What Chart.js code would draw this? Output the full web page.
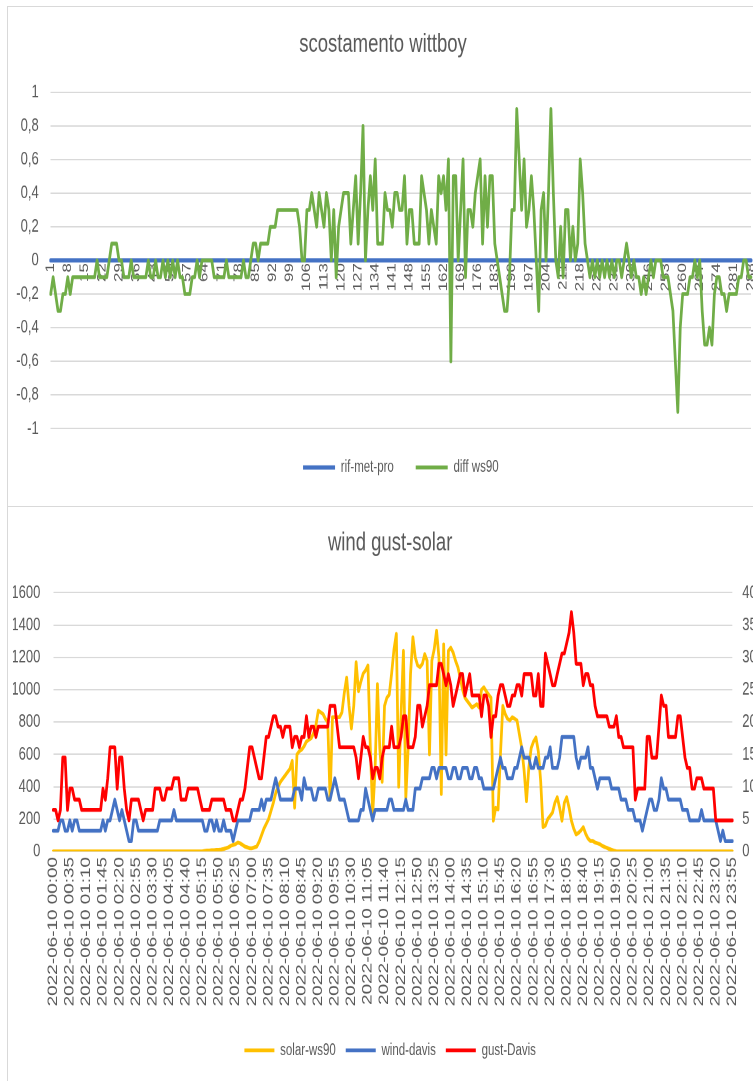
<!DOCTYPE html>
<html>
<head>
<meta charset="utf-8">
<script src="https://cdn.jsdelivr.net/npm/chart.js@4.4.1/dist/chart.umd.min.js"></script>
<style>
  html, body { margin: 0; padding: 0; background: #fff; }
  body { width: 753px; height: 1081px; overflow: hidden; position: relative; }
  .frame { position: absolute; left: 7px; width: 790px; border: 1px solid #d9d9d9; border-right: none; box-sizing: border-box; overflow: hidden; }
  #frame-top { top: 6px; height: 501px; }
  #frame-bottom { top: 506px; height: 600px; border-bottom: none; }
  .stretch { position: absolute; left: 0; top: 0; transform-origin: 0 0; transform: scaleY(1.4); }
  canvas { display: block; }
</style>
</head>
<body>
<div class="frame" id="frame-top"><div class="stretch"><canvas id="wittboy-chart" width="760" height="357"></canvas></div></div>
<div class="frame" id="frame-bottom"><div class="stretch"><canvas id="wind-solar-chart" width="775" height="420"></canvas></div></div>
<script>
// scostamento wittboy: sample number 1..288
const wittboyIndex = [];
for (let i = 1; i <= 288; i++) wittboyIndex.push(String(i));

const rifMetPro = [
    0, 0, 0, 0, 0, 0, 0, 0, 0, 0, 0, 0, 0, 0, 0, 0, 0, 0, 0, 0, 0, 0, 0, 0,
    0, 0, 0, 0, 0, 0, 0, 0, 0, 0, 0, 0, 0, 0, 0, 0, 0, 0, 0, 0, 0, 0, 0, 0,
    0, 0, 0, 0, 0, 0, 0, 0, 0, 0, 0, 0, 0, 0, 0, 0, 0, 0, 0, 0, 0, 0, 0, 0,
    0, 0, 0, 0, 0, 0, 0, 0, 0, 0, 0, 0, 0, 0, 0, 0, 0, 0, 0, 0, 0, 0, 0, 0,
    0, 0, 0, 0, 0, 0, 0, 0, 0, 0, 0, 0, 0, 0, 0, 0, 0, 0, 0, 0, 0, 0, 0, 0,
    0, 0, 0, 0, 0, 0, 0, 0, 0, 0, 0, 0, 0, 0, 0, 0, 0, 0, 0, 0, 0, 0, 0, 0,
    0, 0, 0, 0, 0, 0, 0, 0, 0, 0, 0, 0, 0, 0, 0, 0, 0, 0, 0, 0, 0, 0, 0, 0,
    0, 0, 0, 0, 0, 0, 0, 0, 0, 0, 0, 0, 0, 0, 0, 0, 0, 0, 0, 0, 0, 0, 0, 0,
    0, 0, 0, 0, 0, 0, 0, 0, 0, 0, 0, 0, 0, 0, 0, 0, 0, 0, 0, 0, 0, 0, 0, 0,
    0, 0, 0, 0, 0, 0, 0, 0, 0, 0, 0, 0, 0, 0, 0, 0, 0, 0, 0, 0, 0, 0, 0, 0,
    0, 0, 0, 0, 0, 0, 0, 0, 0, 0, 0, 0, 0, 0, 0, 0, 0, 0, 0, 0, 0, 0, 0, 0,
    0, 0, 0, 0, 0, 0, 0, 0, 0, 0, 0, 0, 0, 0, 0, 0, 0, 0, 0, 0, 0, 0, 0, 0,
];

const diffWs90 = [
    -0.2, -0.1, -0.2, -0.3, -0.3, -0.2, -0.2, -0.1, -0.2, -0.1,
    -0.1, -0.1, -0.1, -0.1, -0.1, -0.1, -0.1, -0.1, -0.1, 0,
    -0.1, -0.1, -0.1, -0.1, 0, 0.1, 0.1, 0.1, 0, 0,
    -0.1, -0.1, -0.1, 0, -0.1, -0.1, -0.1, -0.1, -0.1, -0.1,
    0, -0.1, -0.1, 0, -0.1, -0.1, 0, -0.1, 0, -0.1,
    0, -0.1, 0, -0.1, -0.1, -0.2, -0.2, -0.2, -0.1, -0.1,
    0, -0.1, 0, 0, 0, 0, 0, -0.1, -0.1, -0.1,
    -0.1, -0.1, 0, -0.1, -0.1, -0.1, -0.1, -0.1, -0.1, 0,
    -0.1, -0.1, 0, 0.1, 0.1, 0, 0.1, 0.1, 0.1, 0.1,
    0.2, 0.2, 0.2, 0.3, 0.3, 0.3, 0.3, 0.3, 0.3, 0.3,
    0.3, 0.3, 0.2, 0, 0, 0.3, 0.3, 0.4, 0.3, 0.2,
    0.4, 0.3, 0.2, 0.4, 0.3, 0, 0.3, -0.1, 0.2, 0.3,
    0.4, 0.4, 0.4, 0.1, 0.3, 0.5, 0.1, 0.4, 0.8, 0,
    0.3, 0.5, 0.3, 0.6, 0.1, 0.1, 0.1, 0.4, 0.3, 0.3,
    0.2, 0.4, 0.4, 0.3, 0.3, 0.5, 0.1, 0.3, 0.3, 0.1,
    0.1, 0.1, 0.5, 0.4, 0.3, 0.1, 0.3, 0.2, 0.1, 0.5,
    0.4, 0.5, 0.3, 0.6, -0.6, 0.5, 0.5, 0, 0.3, 0.6,
    -0.1, 0.3, 0.3, 0.2, 0.4, 0.5, 0.6, 0.1, 0.5, 0.2,
    0.5, 0.5, 0.1, 0, -0.1, -0.2, -0.3, -0.3, -0.1, 0.3,
    0.3, 0.9, 0.6, 0.3, 0.6, 0.2, 0.3, 0.5, 0.3, 0,
    -0.3, 0.3, 0.4, 0, 0.4, 0.9, 0.4, 0, -0.1, 0.2,
    -0.1, 0.3, 0.3, 0, 0.2, 0, 0.1, 0.6, 0.4, 0.1,
    0, -0.1, 0, -0.1, 0, -0.1, 0, -0.1, 0, -0.1,
    0, -0.1, 0, 0, -0.1, 0, 0.1, 0, -0.1, 0,
    -0.1, -0.1, -0.2, -0.1, -0.2, -0.1, 0, -0.1, 0, 0,
    0, -0.1, -0.1, -0.1, -0.2, -0.3, -0.6, -0.9, -0.4, -0.2,
    -0.2, -0.2, -0.1, -0.1, 0, -0.1, 0, -0.3, -0.5, -0.5,
    -0.4, -0.5, -0.2, -0.1, -0.1, -0.2, -0.2, -0.3, -0.2, -0.2,
    -0.2, -0.2, -0.1, -0.1, 0, 0, -0.1, -0.1,
];

// wind gust-solar: 5 minute samples of 2022-06-10
const timeLabels = [];
for (let m = 0; m < 24 * 60; m += 5) {
    const hh = String(Math.floor(m / 60)).padStart(2, '0');
    const mm = String(m % 60).padStart(2, '0');
    timeLabels.push(`2022-06-10 ${hh}:${mm}`);
}

const solarWs90 = [
    0, 0, 0, 0, 0, 0, 0, 0, 0, 0,
    0, 0, 0, 0, 0, 0, 0, 0, 0, 0,
    0, 0, 0, 0, 0, 0, 0, 0, 0, 0,
    0, 0, 0, 0, 0, 0, 0, 0, 0, 0,
    0, 0, 0, 0, 0, 0, 0, 0, 0, 0,
    0, 0, 0, 0, 0, 0, 0, 0, 0, 0,
    0, 0, 0, 0, 3, 5, 5, 8, 8, 10,
    10, 12, 15, 20, 25, 35, 40, 45, 55, 50,
    40, 30, 25, 20, 20, 25, 30, 60, 100, 140,
    170, 200, 250, 300, 360, 400, 430, 450, 470, 490,
    510, 560, 270, 600, 620, 630, 650, 680, 690, 700,
    730, 780, 870, 860, 850, 820, 800, 320, 830, 830,
    830, 830, 860, 980, 1075, 900, 760, 900, 1170, 990,
    1050, 1100, 1120, 1150, 640, 230, 500, 1035, 640, 430,
    900, 950, 970, 1100, 1250, 1345, 400, 850, 1240, 330,
    640, 1100, 1325, 1200, 1150, 1140, 1160, 1220, 1180, 600,
    1180, 1250, 1365, 1200, 355, 1280, 600, 1240, 1260, 1230,
    1180, 1140, 1075, 1000, 950, 930, 910, 890, 900, 910,
    890, 1000, 1015, 990, 970, 950, 190, 270, 260, 600,
    900, 850, 820, 810, 830, 820, 810, 725, 640, 500,
    310, 520, 640, 680, 705, 620, 435, 150, 160, 200,
    220, 240, 300, 335, 270, 190, 300, 335, 270, 190,
    140, 105, 115, 130, 150, 110, 80, 65, 65, 55,
    50, 45, 35, 28, 22, 15, 10, 5, 0, 0,
    0, 0, 0, 0, 0, 0, 0, 0, 0, 0,
    0, 0, 0, 0, 0, 0, 0, 0, 0, 0,
    0, 0, 0, 0, 0, 0, 0, 0, 0, 0,
    0, 0, 0, 0, 0, 0, 0, 0, 0, 0,
    0, 0, 0, 0, 0, 0, 0, 0,
];

const windDavis = [
    3.2, 3.2, 3.2, 4.8, 4.8, 3.2, 3.2, 4.8, 3.2, 4.8,
    4.8, 3.2, 3.2, 3.2, 3.2, 3.2, 3.2, 3.2, 3.2, 3.2,
    3.2, 4.8, 3.2, 4.8, 4.8, 6.4, 8.0, 6.4, 4.8, 6.4,
    4.8, 3.2, 1.6, 1.6, 4.8, 4.8, 3.2, 3.2, 3.2, 3.2,
    3.2, 3.2, 3.2, 3.2, 3.2, 4.8, 4.8, 4.8, 4.8, 4.8,
    4.8, 6.4, 4.8, 4.8, 4.8, 4.8, 4.8, 4.8, 4.8, 4.8,
    4.8, 4.8, 4.8, 4.8, 3.2, 3.2, 4.8, 4.8, 3.2, 4.8,
    3.2, 3.2, 4.8, 3.2, 3.2, 3.2, 1.6, 3.2, 4.8, 4.8,
    4.8, 4.8, 4.8, 4.8, 6.4, 6.4, 6.4, 6.4, 8.0, 6.4,
    8.0, 8.0, 8.0, 9.7, 11.3, 9.7, 8.0, 8.0, 8.0, 8.0,
    8.0, 8.0, 9.7, 9.7, 9.7, 8.0, 11.3, 9.7, 9.7, 9.7,
    8.0, 8.0, 9.7, 9.7, 9.7, 9.7, 8.0, 8.0, 9.7, 11.3,
    9.7, 8.0, 8.0, 8.0, 6.4, 4.8, 4.8, 4.8, 4.8, 4.8,
    6.4, 6.4, 9.7, 8.0, 6.4, 4.8, 6.4, 6.4, 6.4, 6.4,
    6.4, 6.4, 8.0, 8.0, 6.4, 6.4, 6.4, 6.4, 6.4, 8.0,
    6.4, 6.4, 6.4, 9.7, 9.7, 9.7, 11.3, 11.3, 11.3, 11.3,
    12.9, 12.9, 11.3, 12.9, 12.9, 12.9, 12.9, 11.3, 11.3, 12.9,
    12.9, 11.3, 11.3, 12.9, 12.9, 12.9, 11.3, 11.3, 12.9, 12.9,
    11.3, 11.3, 9.7, 9.7, 9.7, 9.7, 9.7, 11.3, 12.9, 14.5,
    12.9, 12.9, 11.3, 11.3, 11.3, 12.9, 12.9, 14.5, 16.1, 14.5,
    14.5, 14.5, 12.9, 12.9, 14.5, 12.9, 12.9, 12.9, 14.5, 14.5,
    16.1, 12.9, 12.9, 12.9, 14.5, 17.7, 17.7, 17.7, 17.7, 17.7,
    17.7, 14.5, 12.9, 14.5, 14.5, 14.5, 16.1, 12.9, 12.9, 11.3,
    9.7, 11.3, 11.3, 11.3, 11.3, 11.3, 9.7, 9.7, 9.7, 9.7,
    8.0, 8.0, 8.0, 6.4, 6.4, 6.4, 4.8, 4.8, 4.8, 3.2,
    4.8, 6.4, 8.0, 8.0, 6.4, 6.4, 8.0, 11.3, 9.7, 9.7,
    8.0, 8.0, 8.0, 8.0, 8.0, 8.0, 6.4, 6.4, 6.4, 4.8,
    4.8, 4.8, 4.8, 4.8, 6.4, 4.8, 4.8, 4.8, 4.8, 4.8,
    4.8, 3.2, 1.6, 3.2, 1.6, 1.6, 1.6, 1.6,
];

const gustDavis = [
    6.4, 6.4, 4.8, 6.4, 14.5, 14.5, 6.4, 9.7, 9.7, 8.0,
    8.0, 8.0, 6.4, 6.4, 6.4, 6.4, 6.4, 6.4, 6.4, 6.4,
    6.4, 9.7, 8.0, 11.3, 16.1, 16.1, 16.1, 9.7, 14.5, 14.5,
    9.7, 6.4, 4.8, 8.0, 8.0, 8.0, 8.0, 6.4, 4.8, 6.4,
    6.4, 6.4, 6.4, 9.7, 9.7, 9.7, 8.0, 8.0, 9.7, 9.7,
    9.7, 11.3, 11.3, 11.3, 8.0, 8.0, 8.0, 9.7, 9.7, 9.7,
    9.7, 9.7, 8.0, 6.4, 6.4, 6.4, 6.4, 8.0, 8.0, 8.0,
    8.0, 8.0, 8.0, 6.4, 6.4, 6.4, 4.8, 4.8, 6.4, 8.0,
    8.0, 9.7, 12.9, 16.1, 16.1, 14.5, 12.9, 11.3, 11.3, 14.5,
    17.7, 17.7, 19.3, 20.9, 20.9, 19.3, 19.3, 17.7, 19.3, 19.3,
    19.3, 16.1, 17.7, 17.7, 16.1, 17.7, 17.7, 20.9, 17.7, 19.3,
    19.3, 17.7, 19.3, 19.3, 19.3, 19.3, 19.3, 22.5, 22.5, 22.5,
    19.3, 16.1, 16.1, 16.1, 16.1, 16.1, 16.1, 16.1, 14.5, 11.3,
    14.5, 17.7, 16.1, 16.1, 14.5, 11.3, 12.9, 12.9, 11.3, 14.5,
    16.1, 16.1, 16.1, 19.3, 16.1, 16.1, 16.1, 17.7, 20.9, 20.9,
    16.1, 16.1, 16.1, 17.7, 22.5, 22.5, 19.3, 20.9, 22.5, 25.7,
    25.7, 25.7, 25.7, 29.0, 29.0, 27.4, 25.7, 27.4, 25.7, 22.5,
    24.1, 25.7, 27.4, 27.4, 24.1, 25.7, 27.4, 24.1, 24.1, 24.1,
    24.1, 20.9, 24.1, 24.1, 22.5, 17.7, 20.9, 20.9, 24.1, 25.7,
    25.7, 24.1, 22.5, 22.5, 24.1, 24.1, 25.7, 25.7, 24.1, 27.4,
    27.4, 27.4, 27.4, 24.1, 24.1, 27.4, 22.5, 22.5, 30.6, 29.0,
    27.4, 25.7, 25.7, 27.4, 29.0, 30.6, 30.6, 32.2, 33.8, 37.0,
    33.8, 29.0, 29.0, 29.0, 25.7, 27.4, 27.4, 25.7, 25.7, 22.5,
    20.9, 20.9, 20.9, 20.9, 20.9, 19.3, 19.3, 19.3, 20.9, 17.7,
    17.7, 16.1, 16.1, 16.1, 16.1, 16.1, 8.0, 9.7, 9.7, 9.7,
    9.7, 17.7, 17.7, 14.5, 14.5, 14.5, 19.3, 24.1, 22.5, 22.5,
    17.7, 17.7, 17.7, 17.7, 20.9, 20.9, 17.7, 14.5, 12.9, 12.9,
    9.7, 9.7, 11.3, 11.3, 11.3, 9.7, 9.7, 9.7, 9.7, 9.7,
    4.8, 4.8, 4.8, 4.8, 4.8, 4.8, 4.8, 4.8,
];

const TEXT = '#595959';
const GRID = '#d9d9d9';
const FONT = "'Liberation Sans', Arial, sans-serif";

Chart.defaults.font.family = FONT;
Chart.defaults.color = TEXT;

const lineStyle = (color, width) => ({
    borderColor: color,
    backgroundColor: color,
    borderWidth: width,
    pointRadius: 0,
    borderJoinStyle: 'round',
    borderCapStyle: 'round',
    tension: 0,
});

const legendOptions = (padding, sampleWidth, fullSize) => ({
    position: 'bottom',
    fullSize,
    labels: {
        color: TEXT,
        font: { size: 11.5 },
        usePointStyle: true,
        pointStyle: 'line',
        pointStyleWidth: sampleWidth,
        padding,
        sort: (a, b) => a.datasetIndex - b.datasetIndex,
    },
});

const titleOptions = (text, top, bottom) => ({
    display: true,
    text,
    color: TEXT,
    font: { size: 18.5, weight: 'normal' },
    padding: { top, bottom },
});

new Chart(document.getElementById('wittboy-chart'), {
    type: 'line',
    data: {
        labels: wittboyIndex,
        datasets: [
            { label: 'rif-met-pro', data: rifMetPro, order: 2, ...lineStyle('#4472c4', 3) },
            { label: 'diff ws90', data: diffWs90, order: 1, ...lineStyle('#70ad47', 2.75) },
        ],
    },
    options: {
        responsive: false,
        animation: false,
        devicePixelRatio: 2,
        events: [],
        layout: { padding: { top: 0, right: 17, bottom: 12.4, left: 7 } },
        plugins: {
            title: titleOptions('scostamento wittboy', 16, 22.6),
            legend: legendOptions(21.9, 32, false),
            tooltip: { enabled: false },
        },
        scales: {
            x: {
                position: { y: 0 },
                grid: { display: false, drawTicks: false },
                border: { color: GRID },
                ticks: {
                    autoSkip: false,
                    minRotation: 90,
                    maxRotation: 90,
                    padding: 2,
                    font: { size: 12 },
                    callback: (value, index) => (index % 7 === 0 ? wittboyIndex[index] : ''),
                },
            },
            y: {
                min: -1,
                max: 1,
                grid: { color: GRID, drawTicks: false },
                border: { display: false },
                ticks: {
                    stepSize: 0.2,
                    padding: 12,
                    font: { size: 13 },
                    callback: (value) => String(Math.round(value * 10) / 10).replace('.', ','),
                },
                afterFit: (axis) => { axis.width = 35.7; },
            },
        },
    },
});

new Chart(document.getElementById('wind-solar-chart'), {
    type: 'line',
    data: {
        labels: timeLabels,
        datasets: [
            { label: 'solar-ws90', data: solarWs90, yAxisID: 'y', order: 3, ...lineStyle('#ffc000', 2.75) },
            { label: 'wind-davis', data: windDavis, yAxisID: 'y1', order: 2, ...lineStyle('#4472c4', 2.75) },
            { label: 'gust-Davis', data: gustDavis, yAxisID: 'y1', order: 1, ...lineStyle('#ff0000', 2.75) },
        ],
    },
    options: {
        responsive: false,
        animation: false,
        devicePixelRatio: 2,
        events: [],
        layout: { padding: { top: 0, right: 15.7, bottom: 16.1, left: 5 } },
        plugins: {
            title: titleOptions('wind gust-solar', 14.6, 24.4),
            legend: legendOptions(10, 30, true),
            tooltip: { enabled: false },
        },
        scales: {
            x: {
                grid: { display: false, drawTicks: false },
                border: { color: GRID },
                ticks: {
                    autoSkip: false,
                    minRotation: 90,
                    maxRotation: 90,
                    padding: 4,
                    font: { size: 13.5 },
                    callback: (value, index) => (index % 7 === 0 ? timeLabels[index] : ''),
                },
                afterFit: (axis) => { axis.height = 126.4; },
            },
            y: {
                position: 'left',
                min: 0,
                max: 1600,
                grid: { color: GRID, drawTicks: false },
                border: { display: false },
                ticks: { stepSize: 200, padding: 13, font: { size: 13 }, callback: (value) => String(value) },
                afterFit: (axis) => { axis.width = 40.3; },
            },
            y1: {
                position: 'right',
                min: 0,
                max: 40,
                grid: { display: false, drawTicks: false },
                border: { display: false },
                ticks: { stepSize: 5, padding: 10, font: { size: 13 }, callback: (value) => String(value) },
                afterFit: (axis) => { axis.width = 35; },
            },
        },
    },
});
</script>
</body>
</html>
